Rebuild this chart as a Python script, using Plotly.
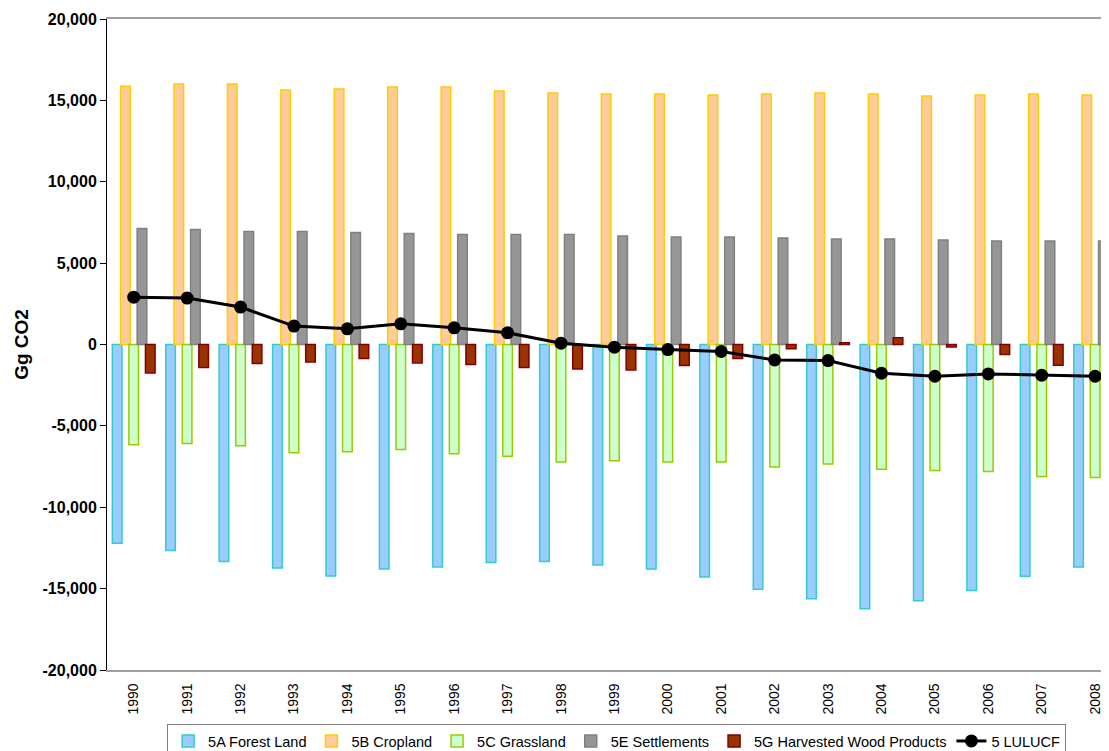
import plotly.graph_objects as go

years = ['1990', '1991', '1992', '1993', '1994', '1995', '1996', '1997', '1998', '1999',
         '2000', '2001', '2002', '2003', '2004', '2005', '2006', '2007', '2008']

forest_land = [-12210, -12660, -13340, -13730, -14220, -13790, -13670, -13400, -13340, -13550,
               -13790, -14290, -15040, -15620, -16240, -15740, -15110, -14240, -13670]
cropland = [15870, 16000, 16000, 15640, 15700, 15820, 15820, 15580, 15450, 15390,
            15390, 15330, 15390, 15450, 15390, 15270, 15330, 15390, 15330]
grassland = [-6160, -6080, -6220, -6650, -6590, -6450, -6710, -6860, -7220, -7140,
             -7220, -7220, -7530, -7350, -7660, -7740, -7800, -8110, -8170]
settlements = [7120, 7060, 6940, 6940, 6880, 6815, 6755, 6755, 6755, 6670,
               6610, 6610, 6550, 6485, 6485, 6425, 6360, 6360, 6360]
harvested_wood = [-1745, -1415, -1170, -1070, -860, -1130, -1230, -1415, -1500, -1560,
                  -1290, -860, -260, 100, 410, -150, -615, -1270, -1745]
lulucf = [2910, 2850, 2300, 1130, 965, 1270, 1025, 720, 80, -165,
          -310, -430, -945, -985, -1765, -1950, -1805, -1890, -1950]

y_ticks = [20000, 15000, 10000, 5000, 0, -5000, -10000, -15000, -20000]
y_tick_labels = ['20,000', '15,000', '10,000', '5,000', '0', '-5,000', '-10,000', '-15,000', '-20,000']

FONT = 'Arial, Liberation Sans, sans-serif'

bar_series = [
    ('5A Forest Land', forest_land, '#99CCFF', '#33CCCC'),
    ('5B Cropland', cropland, '#FFCC99', '#FFCC00'),
    ('5C Grassland', grassland, '#CCFFCC', '#99CC00'),
    ('5E Settlements', settlements, '#969696', '#808080'),
    ('5G Harvested Wood Products', harvested_wood, '#993300', '#800000'),
]

fig = go.Figure()

bar_w = 0.18
step = 0.155
for i, (name, vals, fill, edge) in enumerate(bar_series):
    center = (i - 2) * step
    fig.add_trace(go.Bar(x=years, y=vals, name=name, width=bar_w, offset=center - bar_w / 2,
                         marker=dict(color=fill, line=dict(color=edge, width=1.5))))

fig.add_trace(go.Scatter(x=years, y=lulucf, name='5 LULUCF', mode='lines+markers',
                         line=dict(color='black', width=3),
                         marker=dict(color='black', size=13)))

x_range = [-0.5, 18.26]

# page body has an 8px margin, so the figure is sized to end at the window edge
fig.update_layout(
    width=1101, height=743,
    barmode='overlay',
    plot_bgcolor='white', paper_bgcolor='white',
    margin=dict(l=99, r=0, t=11, b=81, autoexpand=False),
    font=dict(family=FONT, color='black'),
    showlegend=True,
    legend=dict(orientation='h', x=0.06, y=-0.083, xanchor='left', yanchor='top',
                font=dict(size=14.5, family=FONT), bgcolor='white',
                bordercolor='#808080', borderwidth=1, itemwidth=30,
                traceorder='normal', tracegroupgap=0),
    xaxis=dict(type='category', range=x_range, tickangle=-90, ticks='',
               tickfont=dict(size=14), showline=True, linecolor='#A0A0A0', linewidth=1.5,
               mirror=True, showgrid=False, zeroline=False, automargin=False,
               ticklabelstandoff=6),
    xaxis2=dict(overlaying='x', anchor='free', position=0.5, side='bottom', type='linear',
                range=x_range, tickvals=[k + 0.5 for k in range(len(years) - 1)],
                ticks='outside', ticklen=5, tickcolor='#333333', showticklabels=False,
                showline=True, linecolor='#333333', linewidth=1,
                showgrid=False, zeroline=False),
    yaxis=dict(range=[-20000, 20000], tickvals=y_ticks, ticktext=y_tick_labels,
               ticks='outside', ticklen=6, tickcolor='black',
               tickfont=dict(size=16, family=FONT, weight='bold'),
               showline=True, linecolor='black', linewidth=1,
               showgrid=False, zeroline=False, automargin=False,
               title=dict(text='<b>Gg CO2</b>', font=dict(size=19), standoff=8)),
)

fig.write_html("out.html")
